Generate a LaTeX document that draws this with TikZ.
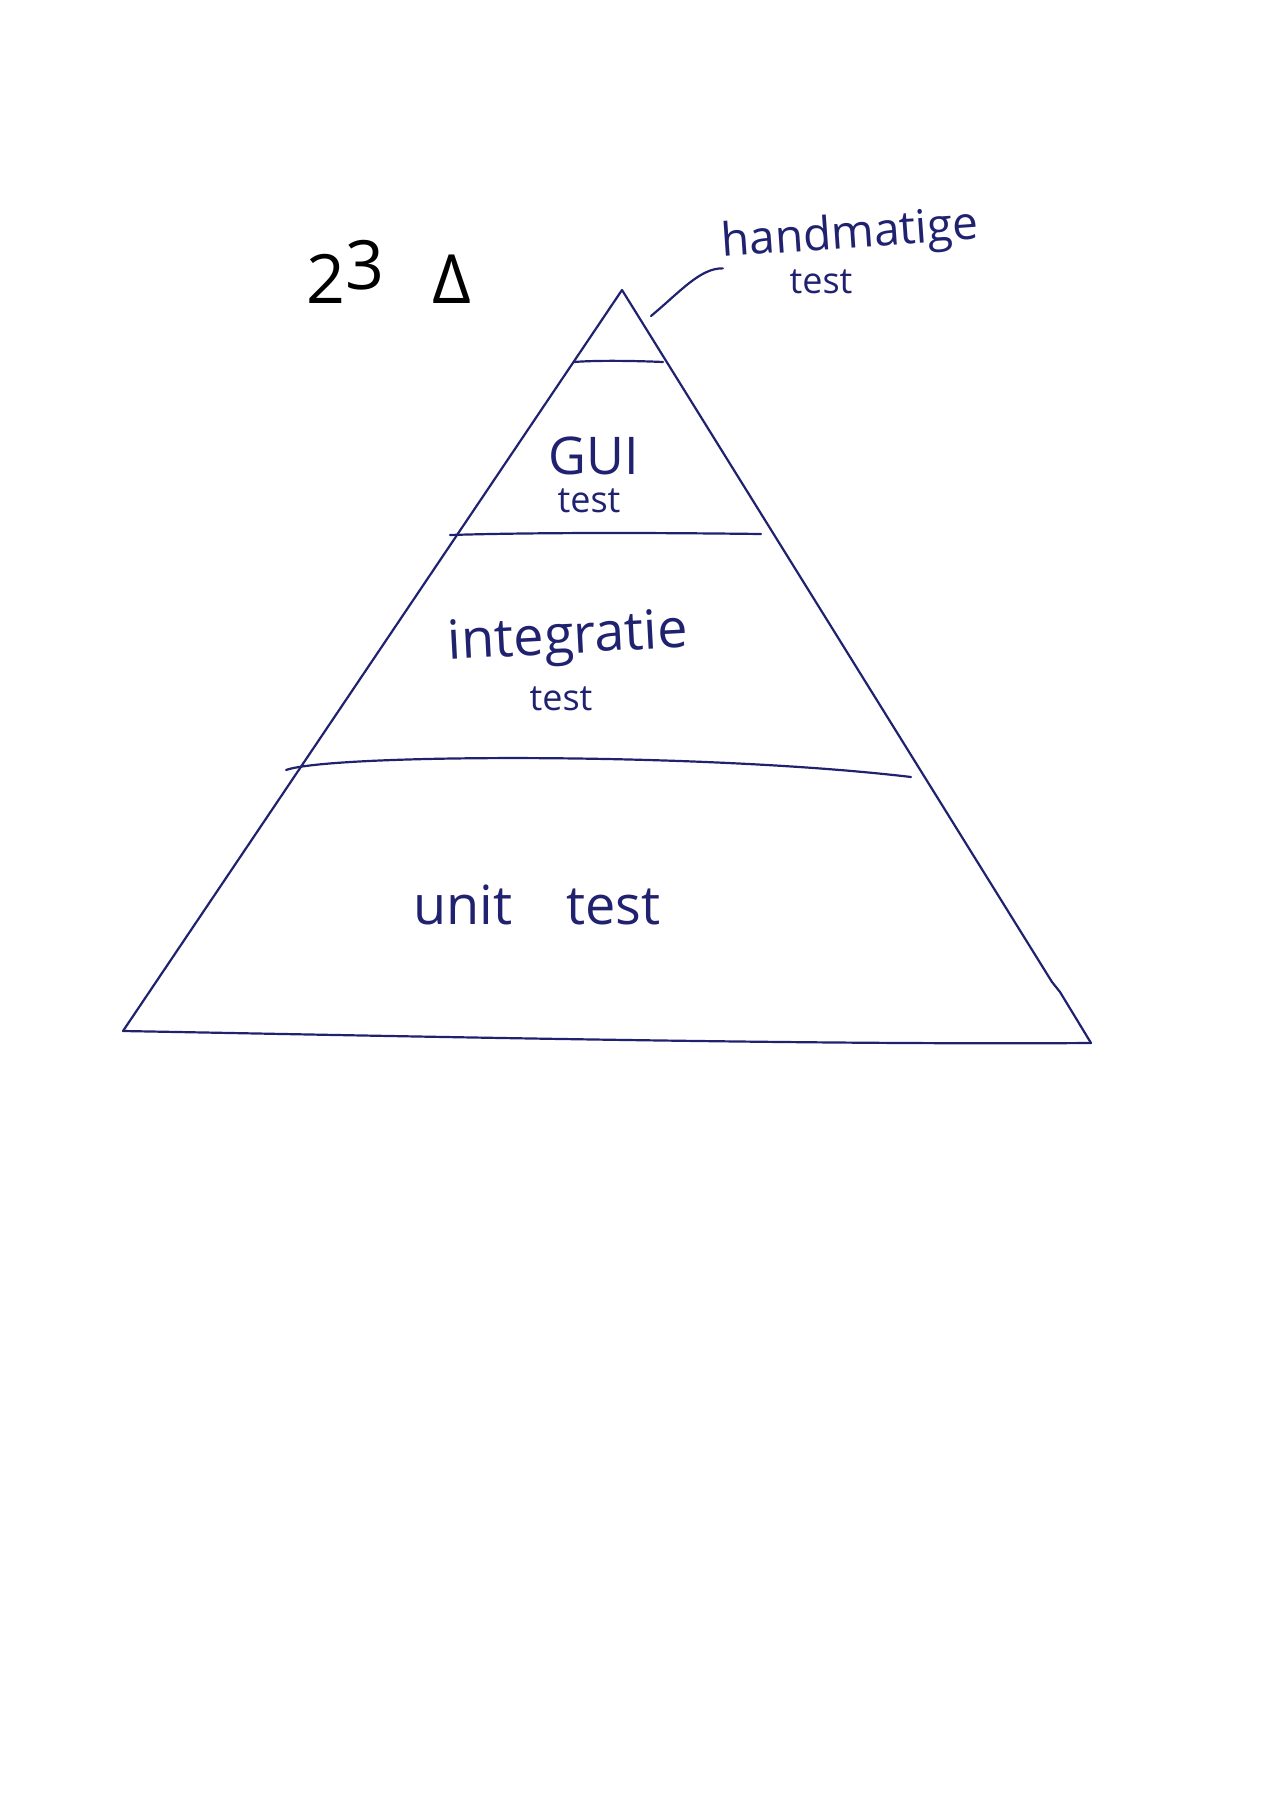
\documentclass[tikz,border=0pt]{standalone}
\usepackage{fontspec}
\setmainfont{Open Sans}
\definecolor{ink}{RGB}{32,34,112}
\tikzset{
  pen/.style={draw=ink, line width=1.1pt, line cap=round, line join=round},
  label/.style={text=ink, inner sep=0pt, font=\fontsize{26}{26}\selectfont},
  sublabel/.style={label, font=\fontsize{18}{18}\selectfont}
}
\begin{document}
\begin{tikzpicture}[x=0.5pt, y=-0.5pt]
    \useasboundingbox (0,0) rectangle (1283,1808);
    % 金字塔的顶点
    \coordinate (apex) at (622, 290);
    \coordinate (bl) at (123, 1031);
    \coordinate (br) at (1091, 1043);
    \draw[pen] (bl) -- (apex) -- (1052, 982) -- (1060, 992) -- (br);
    \draw[pen] (bl) .. controls (400, 1036) and (800, 1045) .. (br);
    % 分层线
    \coordinate (l1a) at (574, 362);
    \coordinate (l1b) at (663, 362);
    \coordinate (l2a) at (450, 535);
    \coordinate (l2b) at (761, 534);
    \coordinate (l3a) at (286, 770);
    \coordinate (l3b) at (911, 777);
    \draw[pen] (l1a) .. controls (600, 360) and (640, 361) .. (l1b);
    \draw[pen] (l2a) .. controls (550, 532) and (680, 533) .. (l2b);
    \draw[pen] (l3a) .. controls (330, 754) and (700, 752) .. (l3b);
    % 标注文字
    \node[label, font=\fontsize{23}{23}\selectfont, rotate=4] (hand) at (850, 236) {handmatige};
    \node[sublabel] (handtest) at (821, 282) {test};
    \node[label] (gui) at (594, 456) {GUI};
    \node[sublabel] (guitest) at (589, 501) {test};
    \node[label, font=\fontsize{27}{27}\selectfont, rotate=3] (integ) at (568, 640) {integratie};
    \node[sublabel] (integtest) at (561, 699) {test};
    \node[label, font=\fontsize{27}{27}\selectfont] (unit) at (537, 905) {unit\hspace{1em}test};
    \node[inner sep=0pt, font=\fontsize{34}{34}\selectfont] (num) at (389, 272) {2\raisebox{0.4ex}{3}\hspace{0.7em}Δ};
    % 指向顶层的引线
    \coordinate (tip) at (651, 316);
    \draw[pen] (tip) .. controls (680, 292) and (700, 268) .. (hand.south west);
\end{tikzpicture}
\end{document}
